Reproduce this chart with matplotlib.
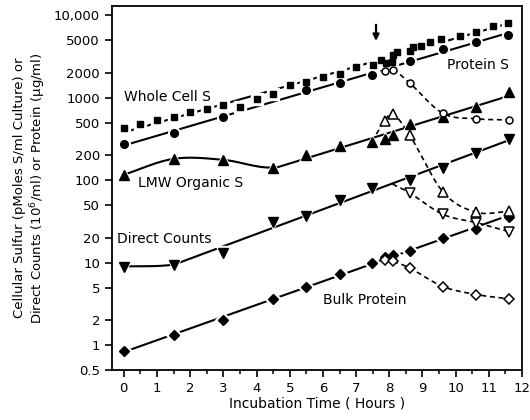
import numpy as np
import matplotlib.pyplot as plt

# whole cell S (filled squares)
t_cell = [0, 0.5, 1.0, 1.5, 2.0, 2.5, 3.0, 3.5, 4.0, 4.5, 5.0, 5.5, 6.0, 6.5, 7.0, 7.51,
          7.76, 7.91, 8.08, 8.11, 8.23, 8.61, 8.71, 8.97, 9.22, 9.57, 10.12, 10.62, 11.12, 11.57]
v_cell = [436, 477, 539, 590, 679, 743, 817, 780, 982, 1127, 1419, 1558, 1790, 1963, 2364, 2478,
          2845, 2666, 2716, 3325, 3582, 3683, 4118, 4316, 4730, 5187, 5690, 6240, 7510, 8090]

# protein S (filled circles) and chase (open circles)
t_prot = [0, 1.5, 3.0, 5.5, 6.5, 7.48, 8.61, 9.62, 10.62, 11.57]
v_prot = [277, 372, 590, 1236, 1530, 1909, 2767, 3928, 4730, 5790]
t_prot_ch = [7.86, 8.11, 8.61, 9.62, 10.62, 11.6]
v_prot_ch = [2096, 2194, 1517, 647, 558, 539]

# LMW organic S (filled triangles) and chase (open triangles)
t_lmw = [0, 1.5, 3.0, 4.5, 5.5, 6.5, 7.48, 7.86, 8.11, 8.61, 9.62, 10.62, 11.6]
v_lmw = [117, 182, 177, 143, 200, 264, 295, 318, 356, 477, 590, 780, 1180]
t_lmw_ch = [7.48, 7.86, 8.11, 8.61, 9.62, 10.62, 11.6]
v_lmw_ch = [295, 529, 637, 355, 72, 41, 42]

# direct counts (filled down triangles) and chase (open down triangles)
t_dc = [0, 1.5, 3.0, 4.5, 5.5, 6.5, 7.48, 8.61, 9.62, 10.62, 11.6]
v_dc = [9.0, 9.5, 13.3, 31.5, 36.9, 56.9, 81, 102, 141, 213, 318]
t_dc_ch = [8.1, 8.61, 9.62, 10.62, 11.6]
v_dc_ch = [90, 70.4, 38.6, 30.6, 23.9]

# bulk protein (filled diamonds) and chase (open diamonds)
t_bp = [0, 1.5, 3.0, 4.5, 5.5, 6.5, 7.48, 7.86, 8.11, 8.61, 9.62, 10.62, 11.6]
v_bp = [0.85, 1.32, 2.04, 3.65, 5.04, 7.31, 9.82, 11.6, 12.5, 14.0, 20.2, 25.5, 35.8]
t_bp_ch = [7.86, 8.11, 8.61, 9.62, 10.62, 11.6]
v_bp_ch = [10.8, 10.4, 8.64, 5.14, 4.12, 3.65]

yticks = [0.5, 1, 2, 5, 10, 20, 50, 100, 200, 500, 1000, 2000, 5000, 10000]
ylabels = ['0.5', '1', '2', '5', '10', '20', '50', '100', '200', '500', '1000', '2000', '5000', '10,000']


def smooth(t, v, n=25):
    # cubic hermite through points, in log space
    x = np.asarray(t, float)
    y = np.log10(v)
    xs, ys = [], []
    for i in range(len(x) - 1):
        a = i - 1 if i > 0 else i
        b = i + 2 if i + 2 < len(x) else i + 1
        m1 = (y[i + 1] - y[a]) / (x[i + 1] - x[a])
        m2 = (y[b] - y[i]) / (x[b] - x[i])
        h = x[i + 1] - x[i]
        s = np.linspace(0, 1, n)
        xs.append(x[i] + s * h)
        ys.append((2*s**3 - 3*s**2 + 1) * y[i] + (s**3 - 2*s**2 + s) * h * m1
                  + (-2*s**3 + 3*s**2) * y[i + 1] + (s**3 - s**2) * h * m2)
    return np.concatenate(xs), 10 ** np.concatenate(ys)


def fitline(t, v, start=0):
    t = np.asarray(t[start:], float)
    p = np.polyfit(t, np.log10(v[start:]), 1)
    xx = np.array([t[0], t[-1]])
    return xx, 10 ** np.polyval(p, xx)


fig = plt.figure(figsize=(5.3, 4.2), dpi=100)
ax = fig.add_axes([0.211, 0.119, 0.774, 0.866])
ax.set_yscale('log')

lw = 1.5
# straight fitted lines
for t, v, st in [(t_cell, v_cell, 0), (t_prot, v_prot, 0), (t_lmw, v_lmw, 3),
                 (t_dc, v_dc, 1), (t_bp, v_bp, 0)]:
    xx, yy = fitline(t, v, st)
    ax.plot(xx, yy, color='k', lw=lw, zorder=2)
# curved starts
xx, yy = smooth(t_lmw[:5], v_lmw[:5])
ax.plot(xx[xx <= 4.5], yy[xx <= 4.5], color='k', lw=lw, zorder=2)
xx, yy = smooth(t_dc[:3], v_dc[:3])
ax.plot(xx[xx <= 1.5], yy[xx <= 1.5], color='k', lw=lw, zorder=2)

# dashed chase curves
for t, v in [(t_prot_ch, v_prot_ch), (t_lmw_ch, v_lmw_ch), (t_dc_ch, v_dc_ch), (t_bp_ch, v_bp_ch)]:
    xx, yy = smooth(t, v)
    ax.plot(xx, yy, color='k', lw=1.2, ls=(0, (3, 2.2)), zorder=2)

# markers with a white halo so the lines look broken at each point
filled = [(t_cell, v_cell, 's', 5), (t_prot, v_prot, 'o', 5.5), (t_lmw, v_lmw, '^', 6.5),
          (t_dc, v_dc, 'v', 6.5), (t_bp, v_bp, 'D', 5)]
for t, v, m, ms in filled:
    ax.plot(t, v, ls='none', marker=m, ms=ms + 3, mfc='white', mec='white', zorder=3)
    ax.plot(t, v, ls='none', marker=m, ms=ms, mfc='k', mec='k', zorder=4)
opened = [(t_prot_ch, v_prot_ch, 'o', 5), (t_lmw_ch[1:], v_lmw_ch[1:], '^', 6.5),
          (t_dc_ch[1:], v_dc_ch[1:], 'v', 6.5), (t_bp_ch, v_bp_ch, 'D', 4.8)]
for t, v, m, ms in opened:
    ax.plot(t, v, ls='none', marker=m, ms=ms, mfc='white', mec='k', mew=1.1, zorder=5)

# arrow marking the chase
ax.annotate('', xy=(7.6, 4900), xytext=(7.6, 7700),
            arrowprops=dict(arrowstyle='-|>', color='k', lw=1.6, mutation_scale=9,
                            shrinkA=0, shrinkB=0))

fs = 10
ax.text(0.0, 1030, 'Whole Cell S', fontsize=fs, va='center')
ax.text(9.75, 2500, 'Protein S', fontsize=fs, va='center')
ax.text(0.42, 93, 'LMW Organic S', fontsize=fs, va='center')
ax.text(-0.2, 19.3, 'Direct Counts', fontsize=fs, va='center')
ax.text(6.0, 3.5, 'Bulk Protein', fontsize=fs, va='center')

ax.set_xlim(-0.36, 12)
ax.set_ylim(0.5, 12900)
ax.set_xticks(range(13))
ax.set_xticks(np.arange(0.5, 12, 1.0), minor=True)
ax.set_yticks(yticks)
ax.set_yticklabels(ylabels)
ax.yaxis.set_minor_locator(plt.NullLocator())
ax.tick_params(axis='both', which='major', labelsize=9.5, width=1.2, length=5, direction='out')
ax.tick_params(axis='x', which='minor', width=1.1, length=3, direction='out')
for sp in ax.spines.values():
    sp.set_linewidth(1.3)

ax.set_xlabel('Incubation Time ( Hours )', fontsize=10, labelpad=1)
ax.set_ylabel('Cellular Sulfur (pMoles S/ml Culture) or\n'
              'Direct Counts ($10^6$/ml) or Protein (μg/ml)', fontsize=9.5, labelpad=4)

fig.savefig('out.png', dpi=100)
